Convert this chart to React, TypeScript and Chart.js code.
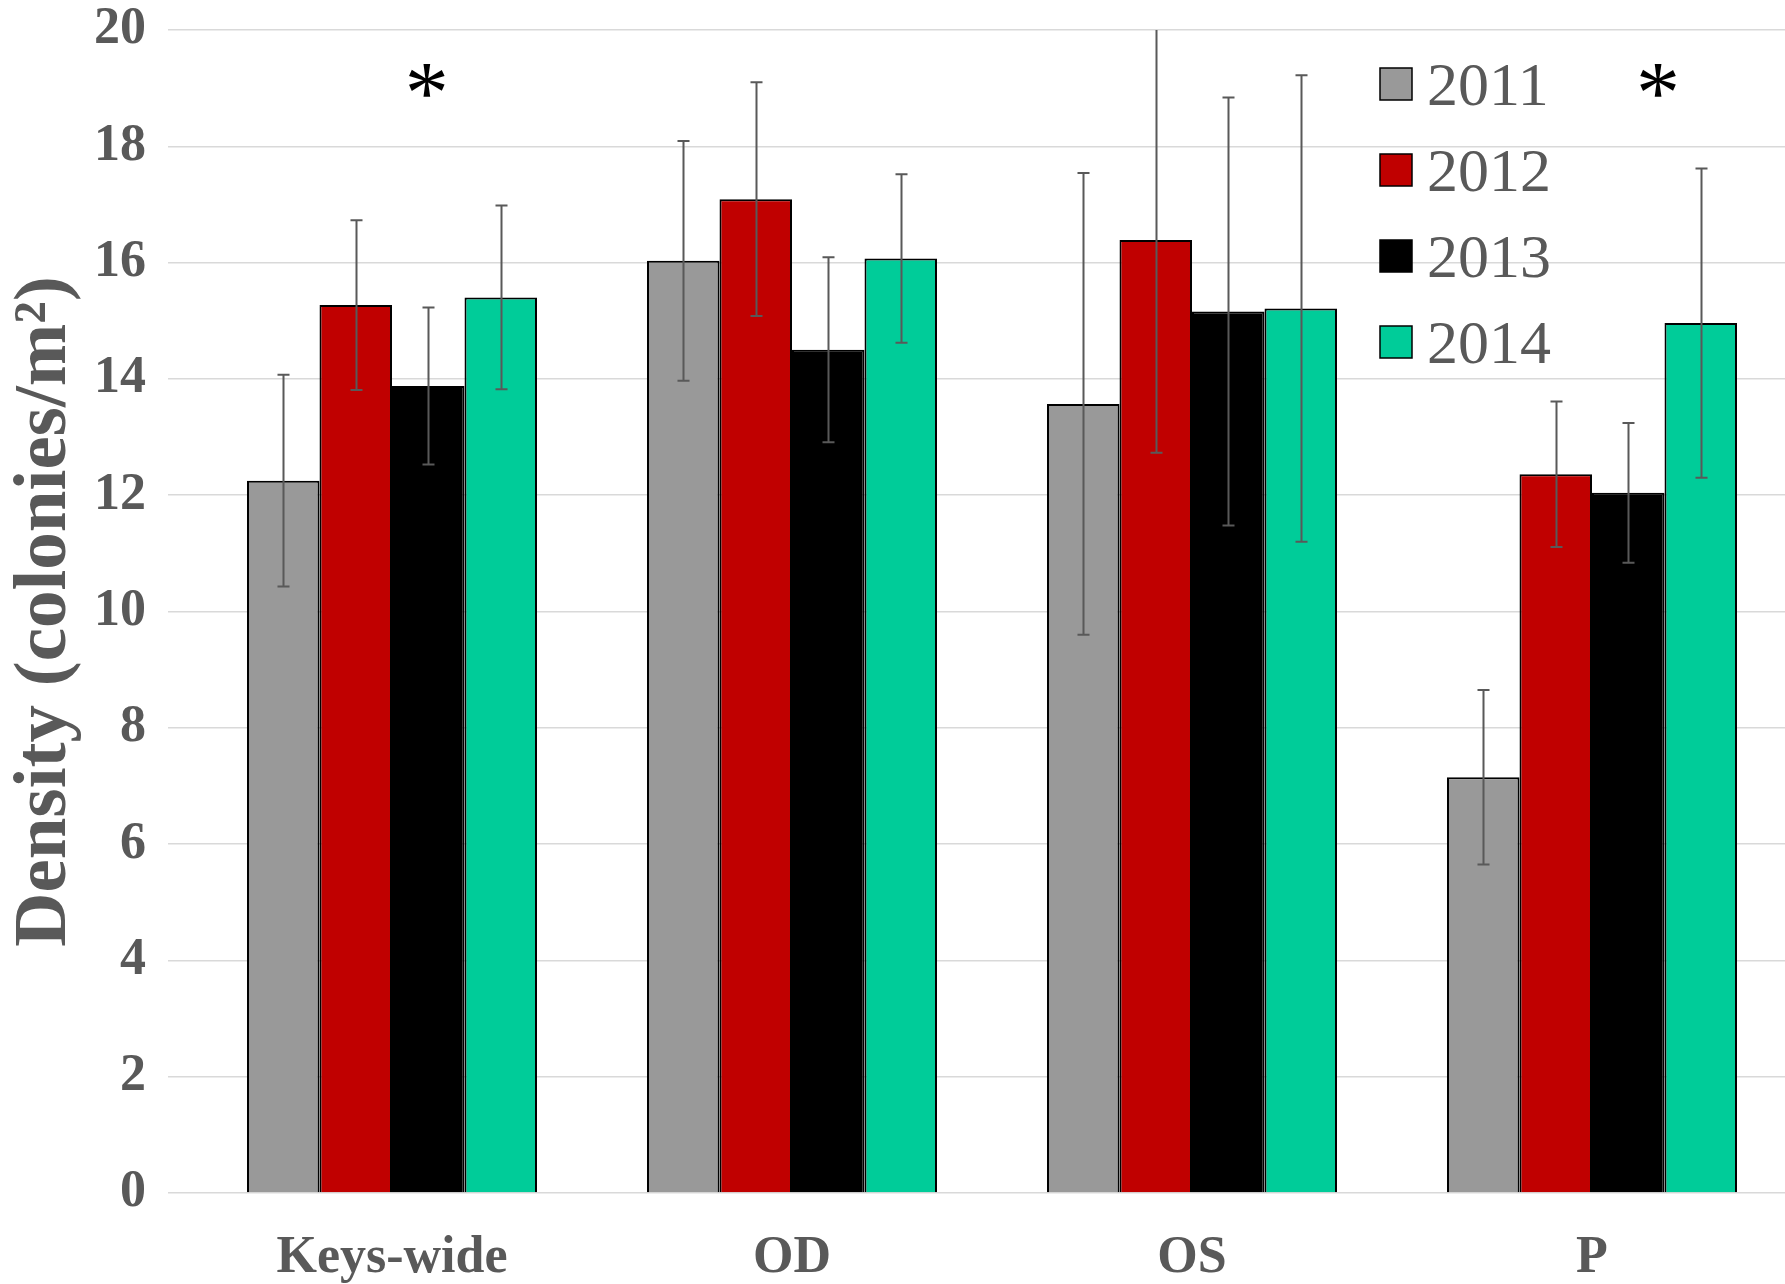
import { useEffect, useRef } from "react";
import { Chart, registerables } from "chart.js";

Chart.register(...registerables);

// ---- data ----
const categories = ["Keys-wide", "OD", "OS", "P"];
const years = ["2011", "2012", "2013", "2014"];
const density2011 = [12.25, 16.03, 13.57, 7.15];
const density2012 = [15.27, 17.09, 16.39, 12.36];
const density2013 = [13.88, 14.5, 15.16, 12.04];
const density2014 = [15.4, 16.07, 15.21, 14.96];
const error2011 = [1.82, 2.06, 3.97, 1.5];
const error2012 = [1.46, 2.01, 3.66, 1.25];
const error2013 = [1.35, 1.59, 3.68, 1.2];
const error2014 = [1.58, 1.45, 4.01, 2.66];
const yMin = 0;
const yMax = 20;
const yStep = 2;
// significance markers: category index, offset within category, y value, text
const markCategory = [0, 3];
const markOffset = [0.087, 0.165];
const markValue = [19.12, 19.12];
const markText = ["*", "*"];

const seriesValues = [density2011, density2012, density2013, density2014];
const seriesErrors = [error2011, error2012, error2013, error2014];
const seriesColors = ["#999999", "#C00000", "#000000", "#00CC99"];

const SERIF = '"Liberation Serif", "Times New Roman", serif';
const TEXT_GRAY = "#595959";

const errorBarPlugin = {
  id: "errorBars",
  afterDatasetsDraw(chart: any) {
    const { ctx, chartArea } = chart;
    const y = chart.scales.y;
    ctx.save();
    ctx.beginPath();
    ctx.rect(chartArea.left, chartArea.top - 1, chartArea.right - chartArea.left, chartArea.bottom - chartArea.top + 2);
    ctx.clip();
    ctx.strokeStyle = TEXT_GRAY;
    ctx.lineWidth = 2;
    const cap = 6;
    chart.data.datasets.forEach((ds: any, i: number) => {
      const meta = chart.getDatasetMeta(i);
      const errs = seriesErrors[i];
      meta.data.forEach((bar: any, j: number) => {
        const v = ds.data[j];
        const e = errs[j];
        const hi = v + e;
        const lo = v - e;
        const yHi = y.getPixelForValue(Math.min(hi, y.max));
        const yLo = y.getPixelForValue(Math.max(lo, y.min));
        const x = Math.round(bar.x) + 0.5;
        ctx.beginPath();
        ctx.moveTo(x, yHi);
        ctx.lineTo(x, yLo);
        if (hi <= y.max) {
          ctx.moveTo(x - cap, yHi);
          ctx.lineTo(x + cap, yHi);
        }
        ctx.moveTo(x - cap, yLo);
        ctx.lineTo(x + cap, yLo);
        ctx.stroke();
      });
    });
    ctx.restore();
  },
};

const legendPlugin = {
  id: "insideLegend",
  afterDraw(chart: any) {
    const { ctx } = chart;
    const boxX = 1380;
    const box = 32;
    const firstRow = 84;
    const rowGap = 86;
    ctx.save();
    ctx.font = `62px ${SERIF}`;
    ctx.textBaseline = "alphabetic";
    ctx.textAlign = "left";
    chart.data.datasets.forEach((ds: any, i: number) => {
      const cy = firstRow + i * rowGap;
      ctx.fillStyle = ds.backgroundColor;
      ctx.fillRect(boxX, cy - box / 2, box, box);
      ctx.strokeStyle = "#000000";
      ctx.lineWidth = 1.5;
      ctx.strokeRect(boxX, cy - box / 2, box, box);
      ctx.fillStyle = TEXT_GRAY;
      ctx.fillText(ds.label, boxX + box + 15, cy + 21);
    });
    ctx.restore();
  },
};

const markPlugin = {
  id: "significance",
  afterDraw(chart: any) {
    const { ctx } = chart;
    const x = chart.scales.x;
    const y = chart.scales.y;
    ctx.save();
    ctx.font = `88px ${SERIF}`;
    ctx.fillStyle = "#000000";
    ctx.textAlign = "center";
    ctx.textBaseline = "alphabetic";
    markText.forEach((t, k) => {
      const px = x.getPixelForValue(markCategory[k] + markOffset[k]);
      const py = y.getPixelForValue(markValue[k]);
      ctx.fillText(t, px, py + 41);
    });
    ctx.restore();
  },
};

export default function App() {
  const canvasRef = useRef<HTMLCanvasElement | null>(null);

  useEffect(() => {
    if (!canvasRef.current) return;
    const chart = new Chart(canvasRef.current, {
      type: "bar",
      data: {
        labels: categories,
        datasets: years.map((yr, i) => ({
          label: yr,
          data: seriesValues[i],
          backgroundColor: seriesColors[i],
          borderColor: "#000000",
          borderWidth: 2,
          categoryPercentage: 0.725,
          barPercentage: 1.0,
        })),
      },
      options: {
        animation: false,
        responsive: true,
        maintainAspectRatio: false,
        layout: { padding: { top: 30, right: 8, bottom: 0, left: 0 } },
        plugins: {
          legend: { display: false },
          tooltip: { enabled: false },
        },
        scales: {
          x: {
            grid: { display: false, drawTicks: false },
            border: { display: false },
            ticks: {
              color: TEXT_GRAY,
              padding: 40,
              font: { family: SERIF, size: 52, weight: "bold", lineHeight: 1 },
            },
            afterFit(scale: any) {
              scale.height = 91;
              scale.paddingLeft = 0;
              scale.paddingRight = 0;
            },
          },
          y: {
            min: yMin,
            max: yMax,
            border: { display: false },
            grid: {
              color: "#D9D9D9",
              lineWidth: 1.5,
              drawTicks: true,
              tickLength: 24,
            },
            ticks: {
              stepSize: yStep,
              color: TEXT_GRAY,
              padding: 22,
              font: { family: SERIF, size: 52, weight: "bold", lineHeight: 1 },
            },
            title: {
              display: true,
              text: "Density (colonies/m\u00B2)",
              color: TEXT_GRAY,
              padding: { top: 1, bottom: 0 },
              font: { family: SERIF, size: 75, weight: "bold", lineHeight: 1.2 },
            },
            afterFit(scale: any) {
              scale.width = 192;
              scale.paddingTop = 0;
              scale.paddingBottom = 0;
            },
          },
        },
      },
      plugins: [errorBarPlugin, legendPlugin, markPlugin],
    });
    return () => chart.destroy();
  }, []);

  return (
    <div style={{ position: "fixed", left: 0, top: 0, width: 1785, height: 1284, overflow: "hidden", background: "#ffffff" }}>
      <div style={{ position: "relative", width: 1800, height: 1284 }}>
        <canvas ref={canvasRef} />
      </div>
    </div>
  );
}
